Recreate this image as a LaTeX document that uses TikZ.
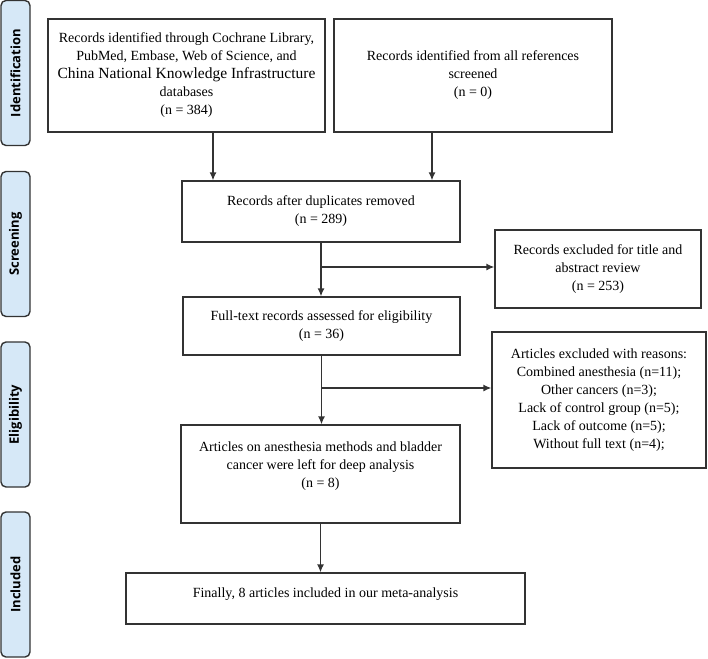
\documentclass[tikz,border=0pt]{standalone}
\usepackage{fontspec}
\setmainfont{Liberation Serif}
\newfontfamily\bandfont{Open Sans}
\usepackage{tikz}
\usetikzlibrary{arrows.meta, shapes, calc}
\definecolor{bandBlue}{HTML}{D6E8F7}
\definecolor{lineGray}{HTML}{333333}

\begin{document}
\begin{tikzpicture}[x=1pt, y=-1pt]

    % Canvas
    \useasboundingbox (0,0) rectangle (708,658);

    % Stage bands
    \tikzset{band/.style={draw=lineGray, line width=1.4pt, fill=bandBlue, rounded corners=5pt, rotate=90, minimum width=145pt, minimum height=29pt, inner sep=0pt, font=\bandfont\bfseries\fontsize{13}{15}\selectfont}}

    % Boxes
    \tikzset{box/.style={draw=lineGray, line width=1.3pt, align=center, inner sep=2pt, font=\fontsize{14}{18}\selectfont}}

    % Connectors
    \tikzset{arr/.style={draw=lineGray, line width=1.3pt, -{Latex[length=8pt, width=7pt]}}}

    % Band nodes
    \node (bId) [band] at (15.5, 73) {Identification};
    \node (bScr) [band] at (15.5, 244) {Screening};
    \node (bElig) [band] at (15.5, 414.5) {Eligibility};
    \node (bInc) [band] at (15.5, 584.5) {Included};

    % Flow nodes
    \node (recDb) [box, minimum width=277pt, minimum height=113pt] at (186.5, 75.5)
        {Records identified through Cochrane Library,\\PubMed, Embase, Web of Science, and\\{\fontsize{15.5}{18}\selectfont China National Knowledge Infrastructure}\\databases\\(n = 384)};
    \node (recRef) [box, minimum width=278pt, minimum height=113pt] at (473, 75.5)
        {Records identified from all references\\screened\\(n = 0)};
    \node (dup) [box, minimum width=278pt, minimum height=61pt] at (321, 211.5)
        {Records after duplicates removed\\(n = 289)};
    \node (exTitle) [box, minimum width=206pt, minimum height=78pt] at (598, 269)
        {Records excluded for title and\\abstract review\\(n = 253)};
    \node (fullTxt) [box, minimum width=277pt, minimum height=58pt] at (321.5, 326)
        {Full-text records assessed for eligibility\\(n = 36)};
    \node (exReason) [box, minimum width=214pt, minimum height=136pt] at (599, 400)
        {Articles excluded with reasons:\\Combined anesthesia (n=11);\\Other cancers (n=3);\\Lack of control group (n=5);\\Lack of outcome (n=5);\\Without full text (n=4);};
    \node (deep) [box, minimum width=279pt, minimum height=98pt] at (320.5, 474)
        {Articles on anesthesia methods and bladder\\cancer were left for deep analysis\\(n = 8)\\\mbox{}};
    \node (final) [box, minimum width=399pt, minimum height=51pt] at (325.5, 598.5)
        {\raisebox{1pt}[0pt][0pt]{Finally, 8 articles included in our meta-analysis}};

    % Connectors
    \draw[arr] ([xshift=26.5pt]recDb.south) -- ([xshift=26.5pt]recDb.south |- dup.north);
    \draw[arr] ([xshift=-41pt]recRef.south) -- ([xshift=-41pt]recRef.south |- dup.north);
    \draw[arr] (dup.south) -- (dup.south |- fullTxt.north);
    \draw[arr] ([yshift=2pt]dup.south |- exTitle.west) -- ([yshift=2pt]exTitle.west);
    \draw[arr] (fullTxt.south) -- (fullTxt.south |- deep.north);
    \draw[arr] ([yshift=12pt]fullTxt.south |- exReason.west) -- ([yshift=12pt]exReason.west);
    \draw[arr] (deep.south) -- (deep.south |- final.north);

\end{tikzpicture}
\end{document}
